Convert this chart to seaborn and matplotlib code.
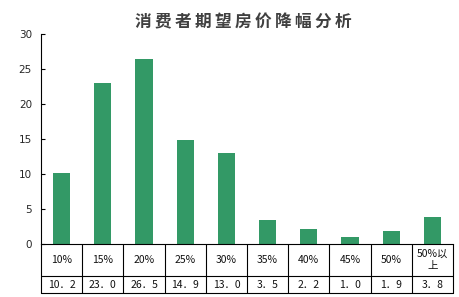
import matplotlib
matplotlib.use("Agg")
import matplotlib.pyplot as plt
import matplotlib.transforms as mtransforms
import seaborn as sns
import pandas as pd

categories = ["10%", "15%", "20%", "25%", "30%", "35%", "40%", "45%", "50%", "50%以\n上"]
values = [10.2, 23.0, 26.5, 14.9, 13.0, 3.5, 2.2, 1.0, 1.9, 3.8]
title = "消费者期望房价降幅分析"
yticks = [0, 5, 10, 15, 20, 25, 30]

sns.set_theme(style="white")
plt.rcParams['font.family'] = ['Noto Sans CJK SC', 'DejaVu Sans']

df = pd.DataFrame({"cat": categories, "val": values})
value_labels = [f"{v:.1f}".replace(".", "．") for v in values]

W, H = 460, 297
fig = plt.figure(figsize=(W / 100, H / 100), dpi=100)
left, right, top, bottom = 41, 453, 34, 244
ax = fig.add_axes([left / W, (H - bottom) / H, (right - left) / W, (bottom - top) / H])

sns.barplot(data=df, x="cat", y="val", color="#339966", width=0.42, saturation=1,
            linewidth=0, ax=ax)
ax.set_xlim(-0.5, len(categories) - 0.5)
ax.set_ylim(0, 30)
ax.set_yticks(yticks)
ax.set_yticklabels([str(t) for t in yticks], fontsize=7.5, family="DejaVu Sans")
ax.tick_params(axis="y", which="both", left=True, direction="in", length=3, width=0.8,
               color="black", pad=6.5)
ax.set_xticks([])
ax.set_xlabel("")
ax.set_ylabel("")
for s in ["top", "right"]:
    ax.spines[s].set_visible(False)
ax.spines["left"].set_color("black")
ax.spines["left"].set_linewidth(0.8)
ax.spines["bottom"].set_color("black")
ax.spines["bottom"].set_linewidth(0.8)

# data table below the axes
ah = bottom - top
r1 = -32 / ah
r2 = -49 / ah
trans = mtransforms.blended_transform_factory(ax.transData, ax.transAxes)
n = len(categories)
for k in range(n + 1):
    ax.plot([k - 0.5, k - 0.5], [0, r2], transform=trans, color="black", lw=0.8, clip_on=False)
for yy in [r1, r2]:
    ax.plot([-0.5, n - 0.5], [yy, yy], transform=trans, color="black", lw=0.8, clip_on=False)
for i, (c, v) in enumerate(zip(categories, value_labels)):
    ax.text(i, r1 / 2, c, transform=trans, ha="center", va="center", fontsize=7.5,
            color="#111111", clip_on=False, linespacing=1.35)
    ax.text(i, (r1 + r2) / 2, v, transform=trans, ha="center", va="center", fontsize=7.5,
            color="#111111", clip_on=False)

fig.text(243 / W, 1 - 22 / H, "\u2009".join(title), ha="center", va="center", fontsize=12,
         fontweight="bold", color="#404040")

fig.savefig("out.png", dpi=100)
